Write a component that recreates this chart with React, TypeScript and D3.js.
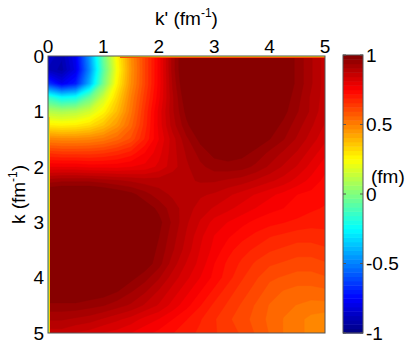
import React, { useMemo } from 'react';
import * as d3 from 'd3';

// grid of momenta (fm^-1): k' across, k down
const kpGrid = [0, 0.25, 0.5, 0.75, 1, 1.25, 1.5, 1.75, 2, 2.25, 2.5, 2.75, 3, 3.25, 3.5, 3.75, 4, 4.25, 4.5, 4.75, 5];
const kGrid = [0, 0.25, 0.5, 0.75, 1, 1.25, 1.5, 1.75, 2, 2.25, 2.5, 2.75, 3, 3.25, 3.5, 3.75, 4, 4.25, 4.5, 4.75, 5];

// values (fm), one row per k
const potential: number[][] = [
  [-0.85, -0.9, -0.78, -0.45, -0.05, 0.26, 0.47, 0.62, 0.76, 0.92, 1.03, 1.06, 1.08, 1.08, 1.08, 1.06, 1.03, 1.0, 0.96, 0.91, 0.86],
  [-0.88, -0.92, -0.8, -0.48, -0.08, 0.24, 0.46, 0.62, 0.76, 0.92, 1.03, 1.06, 1.08, 1.08, 1.08, 1.06, 1.03, 1.0, 0.96, 0.91, 0.86],
  [-0.65, -0.78, -0.7, -0.4, -0.02, 0.27, 0.47, 0.62, 0.76, 0.91, 1.02, 1.06, 1.08, 1.08, 1.08, 1.06, 1.03, 1.0, 0.96, 0.91, 0.86],
  [-0.15, -0.25, -0.22, -0.05, 0.15, 0.33, 0.5, 0.64, 0.77, 0.9, 1.0, 1.05, 1.07, 1.08, 1.07, 1.05, 1.03, 0.99, 0.95, 0.9, 0.86],
  [0.1, 0.08, 0.1, 0.16, 0.26, 0.38, 0.52, 0.66, 0.79, 0.9, 0.98, 1.04, 1.06, 1.07, 1.06, 1.04, 1.01, 0.98, 0.94, 0.9, 0.85],
  [0.28, 0.27, 0.28, 0.31, 0.37, 0.45, 0.55, 0.67, 0.79, 0.89, 0.96, 1.01, 1.04, 1.05, 1.04, 1.02, 0.99, 0.96, 0.92, 0.88, 0.84],
  [0.49, 0.48, 0.48, 0.49, 0.51, 0.55, 0.6, 0.69, 0.78, 0.86, 0.93, 0.98, 1.01, 1.02, 1.01, 0.99, 0.97, 0.94, 0.9, 0.86, 0.82],
  [0.65, 0.64, 0.64, 0.64, 0.65, 0.67, 0.7, 0.75, 0.8, 0.86, 0.91, 0.95, 0.98, 0.99, 0.98, 0.96, 0.93, 0.9, 0.87, 0.83, 0.79],
  [0.78, 0.78, 0.78, 0.77, 0.77, 0.77, 0.78, 0.79, 0.82, 0.86, 0.9, 0.93, 0.95, 0.955, 0.95, 0.93, 0.9, 0.87, 0.84, 0.8, 0.76],
  [0.92, 0.93, 0.93, 0.93, 0.92, 0.91, 0.9, 0.89, 0.89, 0.9, 0.9, 0.91, 0.91, 0.9, 0.89, 0.87, 0.85, 0.83, 0.8, 0.77, 0.74],
  [1.02, 1.03, 1.03, 1.03, 1.02, 1.0, 0.98, 0.95, 0.92, 0.9, 0.89, 0.88, 0.87, 0.85, 0.83, 0.81, 0.79, 0.77, 0.75, 0.74, 0.73],
  [1.05, 1.06, 1.06, 1.06, 1.05, 1.04, 1.02, 0.99, 0.96, 0.92, 0.89, 0.86, 0.84, 0.82, 0.8, 0.78, 0.76, 0.75, 0.74, 0.725, 0.715],
  [1.07, 1.08, 1.08, 1.08, 1.07, 1.06, 1.04, 1.01, 0.98, 0.93, 0.88, 0.84, 0.8, 0.78, 0.76, 0.74, 0.73, 0.72, 0.71, 0.7, 0.7],
  [1.08, 1.08, 1.08, 1.08, 1.07, 1.06, 1.04, 1.01, 0.97, 0.92, 0.87, 0.82, 0.78, 0.755, 0.73, 0.71, 0.69, 0.68, 0.67, 0.67, 0.675],
  [1.07, 1.08, 1.08, 1.07, 1.06, 1.05, 1.03, 1.0, 0.96, 0.91, 0.86, 0.81, 0.77, 0.73, 0.7, 0.68, 0.66, 0.65, 0.64, 0.64, 0.65],
  [1.06, 1.06, 1.06, 1.05, 1.04, 1.03, 1.01, 0.99, 0.95, 0.89, 0.84, 0.8, 0.75, 0.71, 0.68, 0.65, 0.63, 0.62, 0.61, 0.61, 0.62],
  [1.04, 1.04, 1.04, 1.03, 1.02, 1.0, 0.98, 0.95, 0.91, 0.86, 0.82, 0.78, 0.74, 0.7, 0.66, 0.63, 0.6, 0.59, 0.58, 0.58, 0.59],
  [1.01, 1.01, 1.01, 1.0, 0.99, 0.97, 0.94, 0.91, 0.87, 0.83, 0.79, 0.75, 0.71, 0.67, 0.64, 0.61, 0.58, 0.56, 0.55, 0.55, 0.555],
  [0.96, 0.96, 0.96, 0.95, 0.94, 0.92, 0.9, 0.87, 0.84, 0.8, 0.76, 0.72, 0.68, 0.65, 0.62, 0.59, 0.56, 0.54, 0.53, 0.52, 0.52],
  [0.91, 0.91, 0.9, 0.89, 0.87, 0.85, 0.83, 0.8, 0.78, 0.75, 0.72, 0.69, 0.66, 0.63, 0.61, 0.58, 0.555, 0.53, 0.51, 0.49, 0.48],
  [0.86, 0.86, 0.84, 0.83, 0.81, 0.8, 0.78, 0.76, 0.74, 0.72, 0.7, 0.68, 0.66, 0.64, 0.62, 0.59, 0.56, 0.53, 0.51, 0.49, 0.47],
];

// thin strips along k'=0 and k=0 where the edge samples are lower
const leftStripValues = [0.05, 0.35];
const leftStripFrom = 1.1;
const topStripValues = [0.3, 0.6];
const topStripFrom = 1.3;

const axisTicks = [0, 1, 2, 3, 4, 5];
const colorTicks = [-1, -0.5, 0, 0.5, 1];
const colorDomain = [-1, 1];
const levelCount = 64;

const W = 409;
const H = 346;
const FONT = '"Liberation Sans", Arial, Helvetica, sans-serif';

// matlab jet
const jet = (t: number) => {
  const c = (v: number) => Math.max(0, Math.min(1, v));
  const r = c(1.5 - Math.abs(4 * t - 3));
  const g = c(1.5 - Math.abs(4 * t - 2));
  const b = c(1.5 - Math.abs(4 * t - 1));
  return d3.rgb(r * 255, g * 255, b * 255).formatHex();
};

export default function App() {
  const margin = { top: 56, left: 48, plotW: 277, plotH: 277 };
  const x = d3.scaleLinear().domain([0, 5]).range([margin.left, margin.left + margin.plotW]);
  const y = d3.scaleLinear().domain([0, 5]).range([margin.top, margin.top + margin.plotH]);
  const norm = d3.scaleLinear().domain(colorDomain).range([0, 1]);
  const cb = d3.scaleLinear().domain(colorDomain).range([333, 55]);
  const cbX = 343;
  const cbW = 20;

  const step = (colorDomain[1] - colorDomain[0]) / levelCount;
  const thresholds = d3.range(levelCount).map((i) => colorDomain[0] + i * step);

  const bands = useMemo(() => {
    const n = kpGrid.length;
    const m = kGrid.length;
    const gx = d3.scaleLinear().domain([0.5, n - 0.5]).range([kpGrid[0], kpGrid[n - 1]]);
    const gy = d3.scaleLinear().domain([0.5, m - 0.5]).range([kGrid[0], kGrid[m - 1]]);
    const proj = d3.geoTransform({
      point(px: number, py: number) {
        this.stream.point(x(gx(px)), y(gy(py)));
      },
    });
    const path = d3.geoPath(proj);
    const contours = d3.contours().size([n, m]).thresholds(thresholds)(potential.flat());
    return contours.map((c, i) => ({ d: path(c as any) || '', fill: jet(norm(c.value + step / 2)), key: i }));
  }, []);

  return (
    <svg width={W} height={H} style={{ position: 'absolute', left: 0, top: 0, background: '#fff' }} fontFamily={FONT}>
      <defs>
        <clipPath id="plotClip">
          <rect x={x(0)} y={y(0)} width={x(5) - x(0)} height={y(5) - y(0)} />
        </clipPath>
      </defs>

      <g clipPath="url(#plotClip)">
        {bands.map((b) => (
          <path key={b.key} d={b.d} fill={b.fill} stroke={b.fill} strokeWidth={0.4} />
        ))}
        {leftStripValues.map((v, i) => (
          <rect key={'l' + i} x={x(0) + i} y={y(leftStripFrom)} width={1} height={y(5) - y(leftStripFrom)} fill={jet(norm(v))} />
        ))}
        {topStripValues.map((v, i) => (
          <rect key={'t' + i} x={x(topStripFrom)} y={y(0) + i} width={x(5) - x(topStripFrom)} height={1} fill={jet(norm(v))} />
        ))}
      </g>
      <rect x={x(0)} y={y(0)} width={x(5) - x(0)} height={y(5) - y(0)} fill="none" stroke="#555" strokeWidth={1} />

      {/* top axis */}
      {axisTicks.map((t) => (
        <text key={'xt' + t} x={x(t)} y={y(0) - 3} textAnchor="middle" fontSize={19}>
          {t}
        </text>
      ))}
      {/* left axis */}
      {axisTicks.map((t) => (
        <text key={'yt' + t} x={x(0) - 4} y={y(t)} dy="0.36em" textAnchor="end" fontSize={19}>
          {t}
        </text>
      ))}

      <text x={(x(0) + x(5)) / 2} y={25} textAnchor="middle" fontSize={19}>
        k' (fm<tspan dy={-8} fontSize={12}>-1</tspan>
        <tspan dy={8}>)</tspan>
      </text>
      <text transform={`translate(25,${(y(0) + y(5)) / 2}) rotate(-90)`} textAnchor="middle" fontSize={19}>
        k (fm<tspan dy={-8} fontSize={12}>-1</tspan>
        <tspan dy={8}>)</tspan>
      </text>

      {/* colorbar */}
      {thresholds.map((t, i) => (
        <rect key={'cb' + i} x={cbX} y={cb(t + step)} width={cbW} height={cb(t) - cb(t + step) + 0.5} fill={jet(norm(t + step / 2))} />
      ))}
      <rect x={cbX} y={cb(1)} width={cbW} height={cb(-1) - cb(1)} fill="none" stroke="#555" strokeWidth={1} />
      {colorTicks.map((t) => (
        <g key={'ct' + t}>
          <line x1={cbX} x2={cbX + 3} y1={cb(t)} y2={cb(t)} stroke="#555" />
          <line x1={cbX + cbW - 3} x2={cbX + cbW} y1={cb(t)} y2={cb(t)} stroke="#555" />
          <text x={cbX + cbW + 3} y={cb(t)} dy="0.36em" fontSize={19}>
            {t}
          </text>
        </g>
      ))}
      <text x={371} y={183} fontSize={19}>
        (fm)
      </text>
    </svg>
  );
}
